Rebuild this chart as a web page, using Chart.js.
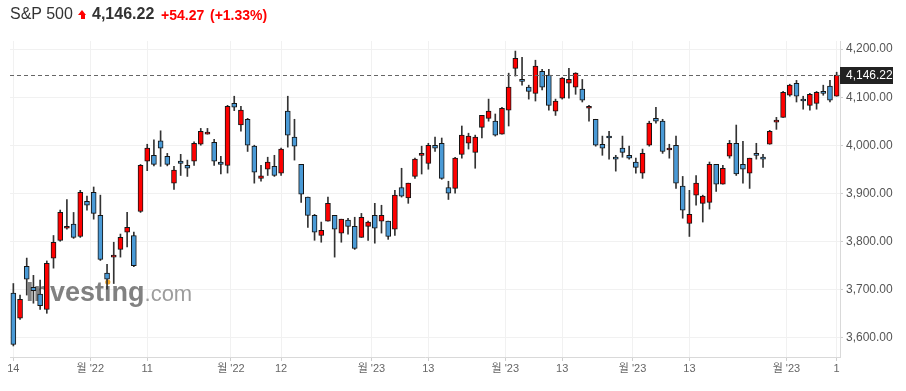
<!DOCTYPE html>
<html>
<head>
<meta charset="utf-8">
<title>S&amp;P 500</title>
<script src="https://cdn.jsdelivr.net/npm/chart.js@4.4.0/dist/chart.umd.min.js"></script>
<style>
    body { margin: 0; background: #fff; }
    #wrap { position: relative; width: 906px; height: 391px; overflow: hidden; }
    #chart { position: absolute; left: 0; top: 0; }
    .hdr { position: absolute; white-space: nowrap; font-family: 'Liberation Sans', Arial, sans-serif; line-height: normal; }
    .arrow { position: absolute; left: 78px; top: 10px; width: 9px; height: 10px; }
    .arrow .head { width: 0; height: 0; border-left: 4.5px solid transparent; border-right: 4.5px solid transparent; border-bottom: 5px solid #f00; }
    .arrow .stem { width: 4px; height: 4px; margin-left: 2.5px; background: #f00; }
</style>
</head>
<body>
<div id="wrap">
    <canvas id="chart" width="906" height="391"></canvas>
    <div class="hdr" style="left:10px;top:5px;font-size:16px;color:#333;">S&amp;P 500</div>
    <div class="arrow"><div class="head"></div><div class="stem"></div></div>
    <div class="hdr" style="left:92px;top:5px;font-size:16px;font-weight:bold;color:#333;">4,146.22</div>
    <div class="hdr" style="left:161px;top:7px;font-size:14px;font-weight:bold;color:#f00;">+54.27</div>
    <div class="hdr" style="left:210px;top:7px;font-size:14px;font-weight:bold;color:#f00;">(+1.33%)</div>
</div>
<script>
// daily candles
const opens = [
    3692, 3640, 3748, 3704, 3690, 3658, 3765, 3802, 3827, 3836,
    3810, 3883, 3902, 3854, 3734, 3767, 3783, 3819, 3812, 3862,
    3967, 3979, 4009, 3977, 3921, 3967, 3958, 3967, 4002, 4023,
    4006, 3965, 3958, 4087, 4042, 4054, 3998, 3931, 3950, 3956,
    3942, 4071, 4017, 3960, 3892, 3854, 3812, 3842, 3854, 3817,
    3844, 3831, 3808, 3831, 3854, 3842, 3842, 3825, 3912, 3890,
    3935, 3979, 3962, 4000, 4004, 3912, 3910, 3981, 4004, 3985,
    4037, 4056, 4050, 4023, 4073, 4160, 4137, 4121, 4108, 4154,
    4146, 4071, 4098, 4129, 4121, 4117, 4077, 4054, 4002, 4019,
    3975, 3994, 3979, 3965, 3942, 4000, 4056, 4050, 3990, 4000,
    3915, 3837, 3896, 3879, 3881, 3960, 3919, 3977, 4004, 3960,
    3942, 3983, 3975, 4002, 4048, 4058, 4104, 4129, 4096, 4083,
    4087, 4112, 4123, 4102
];
const highs = [
    3712, 3688, 3765, 3729, 3719, 3759, 3812, 3865, 3887, 3860,
    3906, 3894, 3913, 3896, 3752, 3798, 3815, 3860, 3819, 3960,
    4002, 4011, 4030, 3983, 3956, 3981, 3969, 4007, 4035, 4035,
    4012, 3977, 4083, 4102, 4081, 4056, 4000, 3958, 3975, 3979,
    3994, 4102, 4054, 3960, 3892, 3856, 3840, 3892, 3854, 3846,
    3848, 3850, 3858, 3842, 3879, 3875, 3842, 3906, 3952, 3921,
    3973, 3998, 4004, 4017, 4015, 3925, 3975, 4040, 4025, 4021,
    4062, 4096, 4065, 4079, 4150, 4196, 4183, 4125, 4177, 4158,
    4158, 4096, 4141, 4160, 4151, 4137, 4083, 4054, 4019, 4029,
    3979, 4019, 3998, 3973, 3992, 4050, 4079, 4054, 4002, 4019,
    3935, 3906, 3937, 3896, 3965, 3960, 3958, 4010, 4042, 4008,
    3973, 4004, 3981, 4031, 4058, 4112, 4127, 4135, 4102, 4108,
    4112, 4125, 4135, 4152
];
const lows = [
    3582, 3637, 3688, 3671, 3658, 3650, 3744, 3800, 3825, 3806,
    3808, 3865, 3846, 3760, 3700, 3712, 3767, 3788, 3747, 3860,
    3947, 3957, 3956, 3957, 3908, 3937, 3935, 3958, 4000, 4023,
    3958, 3940, 3942, 4072, 4029, 3987, 3921, 3925, 3937, 3935,
    3937, 3996, 3969, 3881, 3829, 3802, 3798, 3842, 3767, 3798,
    3815, 3783, 3808, 3802, 3796, 3817, 3804, 3812, 3892, 3879,
    3931, 3940, 3950, 3987, 3929, 3887, 3900, 3973, 3992, 3952,
    4015, 4050, 4019, 4023, 4040, 4144, 4125, 4096, 4092, 4115,
    4073, 4062, 4096, 4098, 4106, 4090, 4050, 3998, 3979, 3971,
    3946, 3975, 3971, 3942, 3931, 3998, 4046, 3983, 3973, 3910,
    3848, 3810, 3875, 3840, 3867, 3904, 3919, 3973, 3937, 3921,
    3910, 3971, 3954, 4002, 4033, 4058, 4102, 4090, 4075, 4073,
    4075, 4104, 4090, 4102
];
const closes = [
    3585, 3679, 3721, 3697, 3666, 3754, 3798, 3860, 3831, 3808,
    3902, 3875, 3858, 3762, 3721, 3771, 3808, 3829, 3749, 3958,
    3994, 3960, 3994, 3960, 3948, 3962, 3952, 4004, 4029, 4027,
    3967, 3960, 4081, 4079, 4073, 4000, 3944, 3936, 3965, 3937,
    3992, 4021, 3998, 3898, 3854, 3819, 3823, 3879, 3825, 3846,
    3831, 3785, 3850, 3840, 3827, 3854, 3810, 3896, 3894, 3921,
    3971, 3983, 4000, 3994, 3931, 3900, 3973, 4021, 4019, 4017,
    4062, 4071, 4021, 4077, 4121, 4181, 4133, 4112, 4165, 4121,
    4083, 4092, 4140, 4137, 4150, 4094, 4081, 4000, 3994, 4015,
    3971, 3985, 3973, 3954, 3983, 4046, 4050, 3987, 3994, 3921,
    3865, 3856, 3921, 3894, 3960, 3919, 3952, 4004, 3940, 3950,
    3973, 3979, 3971, 4029, 4052, 4110, 4125, 4102, 4092, 4106,
    4110, 4108, 4094, 4146.22
];

// x ticks (candle index) and their labels, y ticks
const xTickPos = [0, 11.5, 20, 32.5, 40, 53.5, 62, 73.5, 82, 92.5, 101, 115.5, 123];
const xTickLabels = ['14', "월 '22", '11', "월 '22", '12', "월 '23", '13', "월 '23", '13', "월 '23", '13', "월 '23", '1'];
const yTicks = [3600, 3700, 3800, 3900, 4000, 4100, 4200];

const upColor = '#ff0000';
const downColor = '#4a9ad6';
const lastClose = closes[closes.length - 1];

const fmt = v => v.toLocaleString('en-US', { minimumFractionDigits: 2, maximumFractionDigits: 2 });

// watermark under the candles
const watermark = {
    id: 'watermark',
    beforeDatasetsDraw(chart) {
        const ctx = chart.ctx;
        ctx.save();
        ctx.textBaseline = 'alphabetic';
        ctx.font = "bold 27px 'Liberation Sans', Arial, sans-serif";
        ctx.fillStyle = 'rgba(115,115,115,0.9)';
        ctx.fillText('Investing', 26, 301);
        const w = ctx.measureText('Investing').width;
        const iX = 26 + ctx.measureText('Invest').width + ctx.measureText('i').width / 2;
        ctx.fillStyle = '#f5a623';
        ctx.beginPath();
        ctx.arc(iX, 282, 2.6, 0, Math.PI * 2);
        ctx.fill();
        ctx.font = "22px 'Liberation Sans', Arial, sans-serif";
        ctx.fillStyle = 'rgba(140,140,140,0.85)';
        ctx.fillText('.com', 26 + w, 301);
        ctx.restore();
    }
};

// dashed last price line and price box
const lastPrice = {
    id: 'lastPrice',
    afterDraw(chart) {
        const ctx = chart.ctx;
        const area = chart.chartArea;
        const y = Math.round(chart.scales.y.getPixelForValue(lastClose)) + 0.5;
        ctx.save();
        ctx.strokeStyle = '#666';
        ctx.lineWidth = 1;
        ctx.setLineDash([4, 3]);
        ctx.beginPath();
        ctx.moveTo(area.left, y);
        ctx.lineTo(area.right, y);
        ctx.stroke();
        ctx.setLineDash([]);
        ctx.fillStyle = '#222';
        ctx.fillRect(area.right, y - 8.5, 53, 17);
        ctx.fillStyle = '#fff';
        ctx.font = "12px 'Liberation Sans', Arial, sans-serif";
        ctx.textBaseline = 'middle';
        ctx.fillText(fmt(lastClose), area.right + 6, y);
        ctx.restore();
    }
};

const ctx = document.getElementById('chart').getContext('2d');

new Chart(ctx, {
    type: 'bar',
    data: {
        datasets: [{
            label: 'body',
            data: opens.map((o, i) => ({ x: i, y: [o, closes[i]] })),
            backgroundColor: closes.map((c, i) => c >= opens[i] ? upColor : downColor),
            borderColor: '#151515',
            borderWidth: 1,
            borderSkipped: false,
            barThickness: 5,
            minBarLength: 2,
            grouped: false,
            order: 0
        }, {
            label: 'wick',
            data: lows.map((l, i) => ({ x: i, y: [l, highs[i]] })),
            backgroundColor: '#333',
            borderWidth: 0,
            barThickness: 1,
            grouped: false,
            order: 1
        }]
    },
    options: {
        responsive: false,
        animation: false,
        layout: { padding: { left: 10, top: 41, right: 0, bottom: 0 } },
        plugins: {
            legend: { display: false },
            tooltip: { enabled: false }
        },
        scales: {
            x: {
                type: 'linear',
                bounds: 'data',
                min: -0.5,
                max: 123.5,
                offset: false,
                grid: { offset: false, color: '#f1f1f1', tickLength: 4, tickColor: '#cfcfcf' },
                border: { color: '#d9d9d9' },
                ticks: {
                    autoSkip: false,
                    maxRotation: 0,
                    padding: 1,
                    color: '#666',
                    font: { family: "'Liberation Sans Narrow', 'Liberation Sans', 'Noto Sans CJK KR', sans-serif", size: 11 },
                    callback: (v, i) => xTickLabels[i]
                },
                afterBuildTicks: s => { s.ticks = xTickPos.map(v => ({ value: v })); },
                afterFit: s => { s.height = 34; }
            },
            y: {
                position: 'right',
                bounds: 'data',
                min: 3559,
                max: 4217,
                grid: { color: '#f1f1f1', tickLength: 3, tickColor: '#cfcfcf' },
                border: { color: '#d9d9d9' },
                ticks: {
                    padding: 3,
                    color: '#555',
                    font: { family: "'Liberation Sans', Arial, sans-serif", size: 12 },
                    callback: v => fmt(v)
                },
                afterBuildTicks: s => { s.ticks = yTicks.map(v => ({ value: v })); },
                afterFit: s => { s.width = 66; }
            }
        }
    },
    plugins: [watermark, lastPrice]
});
</script>
</body>
</html>
